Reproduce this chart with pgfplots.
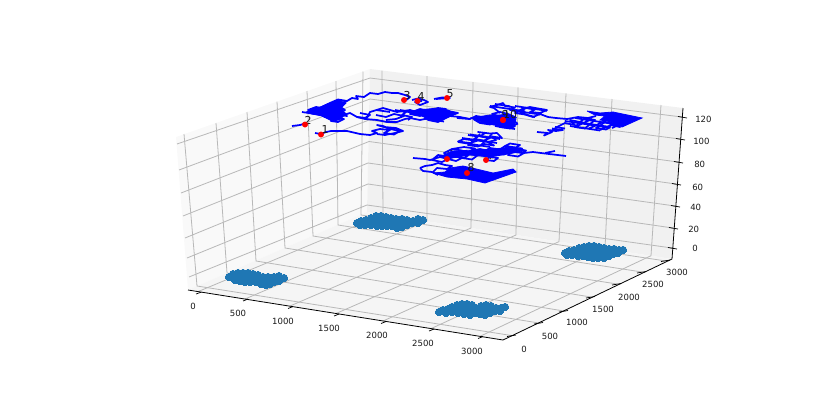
\documentclass[border=0pt]{standalone}
\usepackage{fontspec}
\setmainfont{DejaVu Sans}
\usepackage{pgfplots}
\pgfplotsset{compat=1.18}
\definecolor{scat}{HTML}{1F77B4}
\definecolor{gridc}{HTML}{B8B8B8}
\tikzset{
  gridl/.style={gridc,line width=0.6pt},
  walk/.style={blue,line width=1.3pt,line join=round},
  solid/.style={blue,fill=blue,line width=0.6pt},
  tk/.style={black,line width=0.55pt},
  ticklab/.style={font=\fontsize{6.4}{7}\selectfont,text=black!90,inner sep=0pt},
  numlab/.style={font=\fontsize{8.2}{9}\selectfont,text=black!90,inner sep=0pt},
}
\begin{document}
\begin{tikzpicture}
\begin{axis}[
  scale only axis, width=622.5pt, height=303pt,
  xmin=0, xmax=830, ymin=0, ymax=404, y dir=reverse,
  ticks=none, axis line style={draw=none}, unbounded coords=jump,
]
% panes
\addplot[fill=black!2.5,draw=none] coordinates {(176,137)(370,69)(367,212)(188,290)(176,137)};
\addplot[fill=black!5.5,draw=none] coordinates {(370,69)(683,108)(672,259)(367,212)(370,69)};
\addplot[fill=black!4,draw=none] coordinates {(188,290)(503,340)(672,259)(367,212)(188,290)};

% grid: x lines over floor and right wall
\addplot[gridl] coordinates {
 (198,291.6)(383,214.5)(382,70.5) (nan,nan)
 (245,299)(427,221)(427,76) (nan,nan)
 (290,306)(471,228)(473,82) (nan,nan)
 (336,313.5)(516,235)(518,87.4) (nan,nan)
 (383,321)(559,241.6)(566,93.4) (nan,nan)
 (431,328.6)(605,248.6)(612,99) (nan,nan)
 (480,336.3)(651,255.7)(661,105)
};
% y lines over floor and left wall
\addplot[gridl] coordinates {
 (512,335.6)(197,286)(184,134) (nan,nan)
 (539,323)(227,273)(216,123) (nan,nan)
 (564,311)(256,261)(247,112) (nan,nan)
 (591,297)(285,248)(277,101.6) (nan,nan)
 (617,284)(313,236)(307,91) (nan,nan)
 (642,272)(338,225)(336,81) (nan,nan)
 (666,261)(361,215)(363,71.5)
};
% z lines over both walls
\addplot[gridl] coordinates {
 (177,144)(370,78)(682,117) (nan,nan)
 (179,170)(370,99)(680,139) (nan,nan)
 (181,193)(369,120)(678,162) (nan,nan)
 (183,216)(369,141.5)(676,184) (nan,nan)
 (185,238)(368,163)(675,206) (nan,nan)
 (187,258)(368,184)(673,228) (nan,nan)
 (189,277)(367,205)(672,248)
};

% axis lines and ticks
\addplot[black,line width=0.6pt] coordinates {(188,290)(503,340)(672,259)(683,108)};
\addplot[tk] coordinates {
 (196,294)(201,292.2) (nan,nan) (243,301)(248,299) (nan,nan) (288,308.5)(293,306.5) (nan,nan)
 (334,316)(339,314) (nan,nan) (381,323.5)(386,321.5) (nan,nan) (429,331)(434,329) (nan,nan) (478,338.5)(483,336.5) (nan,nan)
 (507,336.5)(516,335) (nan,nan) (534,324)(543,322.5) (nan,nan) (559,312)(568,310.5) (nan,nan)
 (586,298)(595,296.5) (nan,nan) (612,285)(621,283.5) (nan,nan) (637,273)(646,271.5) (nan,nan) (661,261.5)(670,260)  (nan,nan)
 (678,116.5)(687,118) (nan,nan) (676,138.5)(685,140) (nan,nan) (674,161.5)(683,163) (nan,nan)
 (672,183.5)(681,185) (nan,nan) (671,205.5)(680,207) (nan,nan) (669,227.5)(678,229) (nan,nan) (668,247.5)(677,249)
};

% scatter clusters on the floor
\addplot[only marks,mark=*,mark size=2.8pt,mark options={fill=scat,draw=scat,line width=0pt}] coordinates {
 (229,277)(233,274)(238,273)(243,273)(248,273)(253,274)(258,275)(263,277)(268,277)(274,277)
 (279,276)(284,278)(279,281)(274,282)(270,284)(266,285)(261,284)(256,282)(250,282)(245,282)
 (240,281)(235,280)(240,277)(245,277)(250,277)(255,278)(260,280)(265,281)(270,280)(235,277)
};
\addplot[only marks,mark=*,mark size=2.8pt,mark options={fill=scat,draw=scat,line width=0pt}] coordinates {
 (357,223)(361,221)(366,220)(371,218)(376,216)(381,216)(386,217)(391,218)(396,219)(402,219)
 (407,220)(413,221)(418,219)(423,220)(418,223)(412,223)(407,225)(402,227)(397,228)(392,226)
 (387,226)(382,226)(377,226)(371,225)(365,225)(360,225)(372,222)(378,221)(384,221)(390,222)(396,223)(402,223)
};
\addplot[only marks,mark=*,mark size=2.8pt,mark options={fill=scat,draw=scat,line width=0pt}] coordinates {
 (439,312)(443,310)(448,309)(452,307)(457,305)(462,304)(467,304)(472,305)(476,308)(481,306)
 (486,305)(491,306)(496,308)(501,308)(505,307)(500,311)(495,311)(490,313)(485,315)(480,314)
 (475,313)(470,315)(464,314)(458,313)(452,312)(446,313)(455,309)(461,309)(467,309)(473,309)(487,309)(482,310)(493,309)
};
\addplot[only marks,mark=*,mark size=2.8pt,mark options={fill=scat,draw=scat,line width=0pt}] coordinates {
 (565,253)(569,251)(574,250)(579,248)(584,247)(589,246)(594,246)(599,247)(604,248)(609,249)
 (614,249)(619,250)(623,250)(618,253)(613,254)(609,256)(604,258)(598,258)(593,258)(588,257)
 (583,256)(578,256)(572,255)(567,255)(575,252)(582,251)(589,251)(596,252)(603,252)(610,252)(590,254)(600,254)
};

% labels 6 and 7 lie under the walks
\addplot[draw=none] coordinates {(449,155)(450,155)} node[numlab] {6};
\addplot[draw=none] coordinates {(490,156)(491,156)} node[numlab] {7};

% dense cores of the walks
\addplot[solid] coordinates {(306,112)(318,108)(327,104)(338,100)(346,103)(341,108)(346,114)(339,120)(332,121)(322,116)(312,114)(306,112)};
\addplot[solid] coordinates {(470,118)(490,115)(508,115)(516,119)(514,127)(500,126)(486,123)(470,118)};
\addplot[solid] coordinates {(418,110)(438,108)(448,110)(456,114)(446,118)(440,121)(428,119)(420,115)(418,110)};
\addplot[solid] coordinates {(442,156)(452,151)(475,150)(495,149)(510,147)(522,148)(524,151)(508,154)(490,157)(470,155)(452,158)(442,156)};

% walks
\addplot[walk] coordinates {(292,126)(300,125)(307,123)};
\addplot[walk] coordinates {(315,133)(321,134)(326,132)(331,131)(347,131)(360,134)(370,135)(377,133)(372,131)(380,129)(390,130)(384,133)(394,134.5)(400,131)(390,129)(383,126)(377,125)(384,127)(396,128)(403,131)(395,133)(385,135)(377,134)};
\addplot[walk] coordinates {(302,112)(315,114)(320,112)(308,110)(316,107)(326,108.5)(322,111)(332,112.5)(328,115)(318,113.5)(325,117)(335,118.5)(331,121)(338,122)(344,119)(334,117.5)(340,115)(347,116)(343,113)(333,111.5)(337,109)(345,110)(339,106)(329,104.5)(333,102)(342,103.5)(347,101)(338,99.5)(330,103)(320,108)(312,110)(324,112)(330,107)(337,113)(326,115)};
\addplot[walk] coordinates {(347,101)(352,98)(358,99)(356,96)(364,97)(370,93)(378,94)(385,92)(392,93)(398,93)(405,95)(410,97)(407,99.5)(403,100)};
\addplot[walk] coordinates {(337,117)(350,113)(357,117)(367,118)(370,112)(383,108)(390,110)(397,112)(410,110)(420,113)(428,115)};
\addplot[walk] coordinates {(357,117)(365,119)(377,120)(387,122)(397,122)(405,119)(410,118)(420,120)(430,118)(436,121)};
\addplot[walk] coordinates {(376,115)(386,117)(394,114)(404,116)(396,119)(386,120)};
\addplot[walk] coordinates {(395,110)(406,112)(402,115)(412,117)(408,120) (nan,nan) (360,113)(370,115)(365,118) (nan,nan) (376,110)(390,112)};
\addplot[walk] coordinates {(400,110)(412,112)(420,109)(430,111)(426,113)(416,111.5)(410,114)(420,116)(428,112)(438,108)(446,109)(440,112)(432,111)(426,115)(436,116.5)(444,113)(452,114.5)(458,113)(448,111)(442,114)(450,116)(444,119)(434,117.5)(428,120)(438,122)(444,119)(440,116)(450,116)(460,117)(470,119)};
\addplot[walk] coordinates {(402,111)(432,115.5) (nan,nan) (412,114)(444,119) (nan,nan) (424,118.5)(444,121.5)};
\addplot[walk] coordinates {(457,118)(470,119)(476,116)(488,118)(484,121)(474,119.5)(480,123)(490,124.5)(496,122)(486,120.5)(492,117)(502,118.5)(498,121)(508,122.5)(504,125)(494,123.5)(500,127)(510,128.5)(515,126)(505,124.5)(510,122)(517,123)(512,120)(502,118.5)(508,116)(516,117.5)(508,114)(498,116)(492,114)(500,112)(508,114)};
\addplot[walk] coordinates {(478,122)(510,127) (nan,nan) (495,126)(515,129) (nan,nan) (508,128)(518,123.5)};
\addplot[walk] coordinates {(500,113)(494,108)(490,107)(497,105)(503,103)(505,106)(515,107.5)(510,110)(520,111.5)(526,108)(535,109.5)(530,112)(540,113)(547,110)(538,108.5)(530,107)(522,109)(515,113)(525,114.5)(533,117)(540,114)(548,117)(556,118)(567,119)};
\addplot[walk] coordinates {(490,106)(525,111.3) (nan,nan) (495,104)(510,106.3) (nan,nan) (515,106)(547,110.8) (nan,nan) (510,110)(540,114.5) (nan,nan) (520,113)(535,117)};
\addplot[solid] coordinates {(587,111)(600,113)(613,112)(642,118)(622,127)(612,122)(600,120)(605,116)(595,115)(587,111)};
\addplot[walk] coordinates {(555,128)(565,123)(575,125)(570,120)(580,122)(585,118)(595,120)(590,124)(580,122)(575,127)(585,128.5)(590,124)(600,125.5)(596,128)(606,129.5)(610,127)(600,125.5)(605,122)(615,123.5)(620,127)(610,125)};
\addplot[walk] coordinates {(565,121)(610,127.8) (nan,nan) (575,118)(620,125) (nan,nan) (555,127)(565,128.5) (nan,nan) (570,126)(600,130.5) (nan,nan) (575,127)(592,119) (nan,nan) (588,129)(605,121) (nan,nan) (600,130)(618,122) (nan,nan) (612,128)(625,122)};
\addplot[walk] coordinates {(567,119)(578,117)(588,118)(596,116)};
\addplot[walk] coordinates {(537,132)(548,133)(544,135.5)(552,132)(548,130)(556,131)(563,130)(552,128.5)};
\addplot[walk] coordinates {(468,135)(478,136.5)(474,139)(484,140.5)(490,138)(480,136.5)(485,133)(478,132)(490,133.5)(497,133)(502,138)(492,136.5)(496,140)(488,142)(478,140.5)(470,143)(458,141.5)(464,139)(474,140.5)(468,145)(478,146.5)(484,144)(494,145.5)(488,142)};
\addplot[walk] coordinates {(462,138)(497,143) (nan,nan) (470,134.5)(500,139) (nan,nan) (458,142)(490,147) (nan,nan) (470,144)(480,134) (nan,nan) (480,146)(492,134)};
\addplot[walk] coordinates {(413,158)(425,159)(430,160)(440,157)(448,159)(442,162)(432,160)(438,155)(448,156.5)(444,153)(452,149)(462,150.5)(458,154)(468,155.5)(464,158)(454,156.5)(448,159)(456,161)(462,158)(472,159.5)(478,155)(468,153.5)(474,150)(484,151.5)(480,155)(490,156.5)(486,160)(494,161)(498,158)(488,156.5)(494,153)(504,154.5)(510,151)(500,149.5)(494,153)(484,151.5)(490,148)(500,149.5)(505,146)(516,147.5)(520,145)(510,143.5)(505,146)(516,149)(526,150.5)(522,153)(512,151.5)(508,155)(518,156.5)(524,153)(533,152)(545,153.5)(566,156)};
\addplot[walk] coordinates {(545,153)(555,151)};
\addplot[walk] coordinates {(452,149)(464,147)(475,148.5)(470,151)(480,149)(490,151)};
\addplot[walk] coordinates {(420,168)(425,166)(432,165)(438,163)(445,165)(452,166)(447,169)(437,168)(433,172)};
\addplot[walk] coordinates {(420,168)(423,171)(432,172)(438,175)};
\addplot[solid] coordinates {(433,173)(445,172)(450,168)(463,166)(472,168)(493,173)(513,169)(516,172)(485,183)(467,179)(447,177)(433,173)};
\addplot[walk] coordinates {(412,100)(418,98.5)(424,100)(428,102)(420,105)(415,102)(422,101)};
\addplot[walk] coordinates {(434,99)(442,97.5)(450,98)(442,98.5)(436,99)};

% start points
\addplot[only marks,mark=*,red,mark size=2pt,mark options={fill=red,draw=red}] coordinates {
 (321,134.5)(305,124.5)(404,100)(417.5,101)(447,98)(447,159)(486,160)(467,173)(503,120)(503,120)
};

% point numbers
\node[numlab] at (axis cs:325,130) {1};
\node[numlab] at (axis cs:308,120) {2};
\node[numlab] at (axis cs:407,96) {3};
\node[numlab] at (axis cs:421,97) {4};
\node[numlab] at (axis cs:450,94) {5};
\node[numlab] at (axis cs:471,168) {8};
\node[numlab] at (axis cs:505,115) {9};
\node[numlab] at (axis cs:510,115) {10};

% tick labels
\node[ticklab] at (axis cs:193,306) {0};
\node[ticklab] at (axis cs:238,313) {500};
\node[ticklab] at (axis cs:283,321) {1000};
\node[ticklab] at (axis cs:329,328) {1500};
\node[ticklab] at (axis cs:377,335) {2000};
\node[ticklab] at (axis cs:423,343) {2500};
\node[ticklab] at (axis cs:472,351) {3000};
\node[ticklab] at (axis cs:524,349) {0};
\node[ticklab] at (axis cs:550,336) {500};
\node[ticklab] at (axis cs:577,322) {1000};
\node[ticklab] at (axis cs:603,309) {1500};
\node[ticklab] at (axis cs:629,297) {2000};
\node[ticklab] at (axis cs:653,284) {2500};
\node[ticklab] at (axis cs:677,272) {3000};
\node[ticklab,anchor=west] at (axis cs:692,248.5) {0};
\node[ticklab,anchor=west] at (axis cs:688,229) {20};
\node[ticklab,anchor=west] at (axis cs:690,207) {40};
\node[ticklab,anchor=west] at (axis cs:692,187) {60};
\node[ticklab,anchor=west] at (axis cs:694,164) {80};
\node[ticklab,anchor=west] at (axis cs:693,141) {100};
\node[ticklab,anchor=west] at (axis cs:695,119) {120};
\end{axis}
\end{tikzpicture}
\end{document}
